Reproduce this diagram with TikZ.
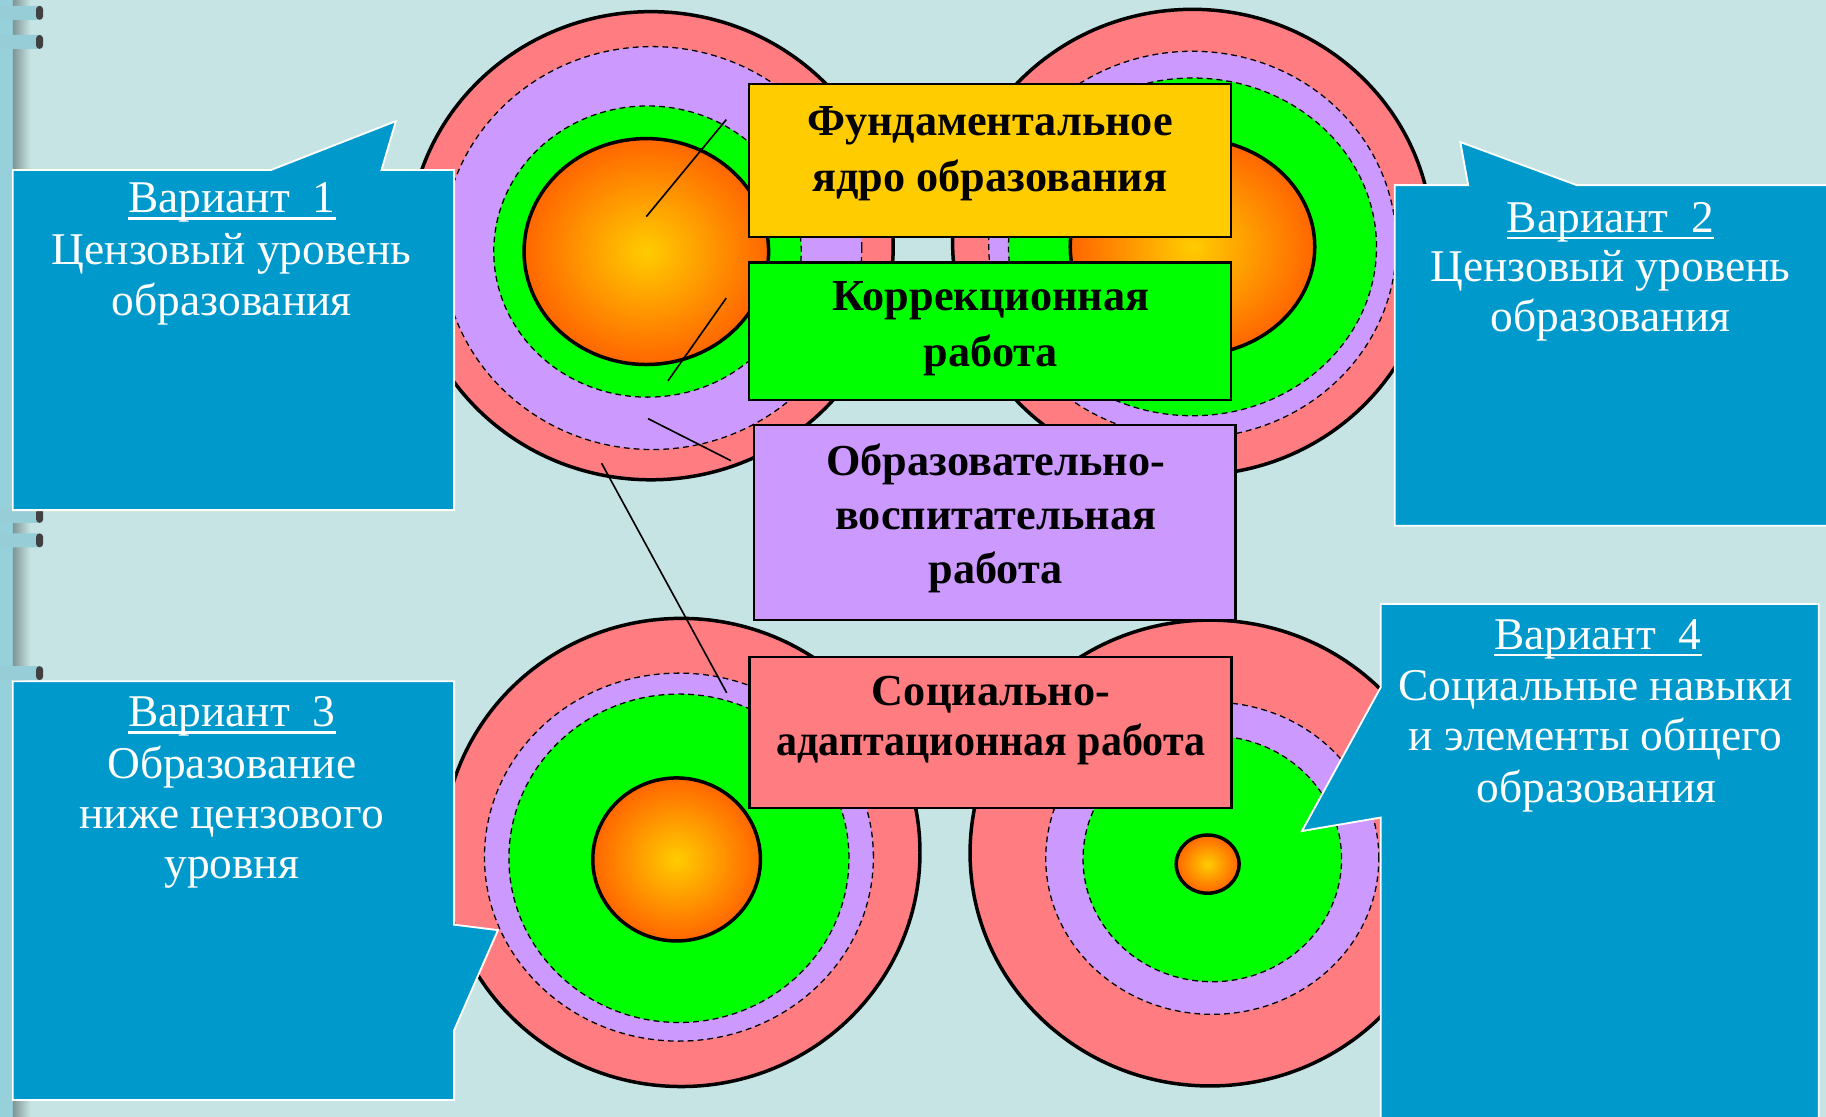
\documentclass[tikz,border=0pt]{standalone}
\usepackage{fontspec}
\setmainfont{Liberation Serif}
\definecolor{bg}{RGB}{198,228,228}
\definecolor{stripc}{RGB}{150,208,218}
\definecolor{hookc}{RGB}{150,205,215}
\definecolor{salmon}{RGB}{255,124,128}
\definecolor{lav}{RGB}{204,153,255}
\definecolor{grn}{RGB}{0,255,0}
\definecolor{ylw}{RGB}{255,204,0}
\definecolor{callblue}{RGB}{0,153,204}
\definecolor{orbin}{RGB}{255,204,0}
\definecolor{orbout}{RGB}{255,102,0}
\pgfdeclareradialshading{orb}{\pgfpoint{0bp}{0bp}}{color(0bp)=(orbin); color(25bp)=(orbout); color(50bp)=(orbout)}
\tikzset{
  outerring/.style={fill=salmon, draw=black, line width=3pt},
  dashring/.style={draw=black, line width=1.1pt, dash pattern=on 5pt off 3.5pt},
  lavring/.style={dashring, fill=lav},
  grnring/.style={dashring, fill=grn},
  orbring/.style={shading=orb, draw=black, line width=3pt},
  box/.style={draw=black, line width=2pt, inner sep=0pt},
  boxtext/.style={anchor=base, inner sep=0pt, font=\bfseries\fontsize{38}{45}\selectfont},
  calltext/.style={anchor=base, inner sep=0pt, text=white, font=\fontsize{39}{46}\selectfont},
  uline/.style={draw=white, line width=2pt},
  callout/.style={fill=callblue, draw=white, line width=1.6pt, line join=miter},
  pointer/.style={draw=black, line width=1.4pt},
  hook/.style={fill=hookc, rounded corners=4pt},
}
\begin{document}
\begin{tikzpicture}[x=1pt,y=-1pt]
\useasboundingbox (0,0) rectangle (1568,959);
\fill[bg] (0,0) rectangle (1568,959);
% binding strip
\fill[stripc] (0,0) rectangle (11,959);
\shade[left color=black!35!bg, right color=bg] (11,0) rectangle (26,959);
\foreach \yy in {11,36,443,464,578}{
  \fill[hook] (-6,\yy-6) rectangle (36,\yy+6);
  \fill[black!75, rounded corners=3pt] (31,\yy-6) rectangle (37,\yy+6);
}
% top-left target
\draw[outerring] (559,211) ellipse [x radius=208pt, y radius=201pt];
\draw[lavring] (560,213) ellipse [x radius=180pt, y radius=173pt];
\draw[grnring] (556,216) ellipse [x radius=132pt, y radius=125pt];
\path[orbring] (555,216) ellipse [x radius=105pt, y radius=97pt];
% top-right target
\draw[outerring] (1024,208) ellipse [x radius=206pt, y radius=200pt];
\draw[lavring] (1024,210) ellipse [x radius=175pt, y radius=166pt];
\draw[grnring] (1024,212) ellipse [x radius=158pt, y radius=145pt];
\path[orbring] (1024,212) ellipse [x radius=105pt, y radius=93pt];
% bottom-left target
\draw[outerring] (585,732) ellipse [x radius=205pt, y radius=201pt];
\draw[lavring] (583,736) ellipse [x radius=167pt, y radius=158pt];
\draw[grnring] (583,737) ellipse [x radius=146pt, y radius=141pt];
\path[orbring] (581,738) ellipse [x radius=72pt, y radius=70pt];
% bottom-right target
\draw[outerring] (1039,732.5) ellipse [x radius=206pt, y radius=200pt];
\draw[lavring] (1041,737) ellipse [x radius=143pt, y radius=134pt];
\draw[grnring] (1041,737.5) ellipse [x radius=111pt, y radius=105.5pt];
\path[orbring] (1037,742) ellipse [x radius=27pt, y radius=25pt];
% pointer lines
\coordinate (p1a) at (555,186);   \coordinate (p1b) at (623.7,102.7);
\coordinate (p2a) at (573.6,327); \coordinate (p2b) at (623.6,256);
\coordinate (p3a) at (556.5,359.5); \coordinate (p3b) at (627.7,395.6);
\coordinate (p4a) at (516.6,397.8); \coordinate (p4b) at (624,594.9);
\draw[pointer] (p1a) -- (p1b);
\draw[pointer] (p2a) -- (p2b);
\draw[pointer] (p3a) -- (p3b);
\draw[pointer] (p4a) -- (p4b);
% central boxes
\node[box, fill=ylw, minimum width=414pt, minimum height=131.5pt] (fund) at (850,137.75) {};
\node[box, fill=grn, minimum width=414pt, minimum height=118pt] (korr) at (850,284.5) {};
\node[box, fill=lav, minimum width=413.5pt, minimum height=167.4pt] (obr) at (854.25,448.7) {};
\node[box, fill=salmon, minimum width=414pt, minimum height=130pt] (soc) at (850.6,629) {};
\node[boxtext] (fund1) at (850,116) {Фундаментальное};
\node[boxtext] (fund2) at (850,164.6) {ядро образования};
\node[boxtext] (korr1) at (851,266.8) {Коррекционная};
\node[boxtext] (korr2) at (851,314.9) {работа};
\node[boxtext] (obr1) at (855,408) {Образовательно-};
\node[boxtext] (obr2) at (855,454.5) {воспитательная};
\node[boxtext] (obr3) at (855,501) {работа};
\node[boxtext] (soc1) at (851,605.4) {Социально-};
\node[boxtext] (soc2) at (851,648.4) {\scalebox{0.95}[1]{адаптационная работа}};
% callouts
\path[callout] (11,146) -- (232.6,146) -- (340,104) -- (327.6,146) -- (390,146) -- (390,438) -- (11,438) -- cycle;
\path[callout] (1197.7,159) -- (1260.7,159) -- (1254,122) -- (1354,159) -- (1575,159) -- (1575,451.5) -- (1197.7,451.5) -- cycle;
\path[callout] (11,585) -- (390,585) -- (390,794) -- (427.6,798.7) -- (390,884.6) -- (390,944.6) -- (11,944.6) -- cycle;
\path[callout] (1185.7,518.7) -- (1561.7,518.7) -- (1561.7,965) -- (1185.7,965) -- (1185.7,702) -- (1118,713.6) -- (1185.7,590) -- cycle;
\node[calltext] (v1a) at (199,182.6) {Вариант~~1};
\node[calltext] (v1b) at (199,227) {Цензовый уровень};
\node[calltext] (v1c) at (199,270.5) {образования};
\node[calltext] (v2a) at (1383,199.5) {Вариант~~2};
\node[calltext] (v2b) at (1383,242) {Цензовый уровень};
\node[calltext] (v2c) at (1383,285) {образования};
\node[calltext] (v3a) at (199,624) {Вариант~~3};
\node[calltext] (v3b) at (199,668.5) {Образование};
\node[calltext] (v3c) at (199,711.4) {ниже цензового};
\node[calltext] (v3d) at (199,754.3) {уровня};
\node[calltext] (v4a) at (1372,557.6) {Вариант~~4};
\node[calltext] (v4b) at (1370,601.7) {Социальные навыки};
\node[calltext] (v4c) at (1370,644.6) {и элементы общего};
\node[calltext] (v4d) at (1371,689.3) {образования};
\foreach \n in {v1a,v2a,v3a,v4a}{
  \draw[uline] ([yshift=-5pt]\n.base west) -- ([yshift=-5pt]\n.base east);
}
\end{tikzpicture}
\end{document}
